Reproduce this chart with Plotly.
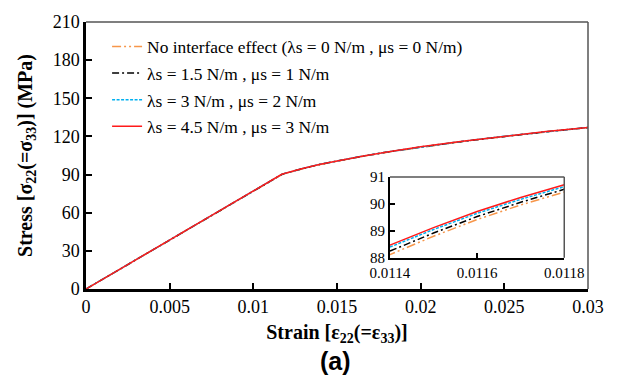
import plotly.graph_objects as go

strain = [0, 0.005, 0.01, 0.011, 0.0114, 0.0115, 0.0116, 0.0117, 0.0118, 0.0122, 0.013,
          0.014, 0.015, 0.0165, 0.018, 0.02, 0.0225, 0.025, 0.0275, 0.03]
stress_none = [0, 38.65, 77.3, 84.95, 88.12, 88.8, 89.42, 89.96, 90.44, 92.05, 94.8,
               98.0, 100.7, 104.3, 107.6, 111.6, 116.0, 120.0, 123.7, 127.0]
stress_15 = [0, 38.7, 77.4, 85.05, 88.25, 88.92, 89.53, 90.06, 90.54, 92.15, 94.9,
             98.1, 100.8, 104.4, 107.7, 111.7, 116.1, 120.1, 123.7, 127.0]
stress_3 = [0, 38.75, 77.5, 85.2, 88.4, 89.05, 89.65, 90.17, 90.64, 92.25, 94.95,
            98.15, 100.85, 104.45, 107.75, 111.75, 116.15, 120.15, 123.75, 127.05]
stress_45 = [0, 38.8, 77.6, 85.3, 88.47, 89.12, 89.72, 90.24, 90.71, 92.3, 95.0,
             98.2, 100.9, 104.5, 107.8, 111.8, 116.2, 120.2, 123.8, 127.1]

names = ["No interface effect (λs = 0 N/m , μs = 0 N/m)",
         "λs = 1.5 N/m , μs = 1 N/m",
         "λs = 3 N/m , μs = 2 N/m",
         "λs = 4.5 N/m , μs = 3 N/m"]
series = [stress_none, stress_15, stress_3, stress_45]
colors = ["#F7964A", "#000000", "#00B0F0", "#FF1A1A"]
dashes = ["9px,3px,2px,3px,2px,3px", "7px,3px,2px,3px", "3px,1.5px", "solid"]

x_ticks = [0, 0.005, 0.01, 0.015, 0.02, 0.025, 0.03]
x_ticktext = ["0", "0.005", "0.01", "0.015", "0.02", "0.025", "0.03"]
y_ticks = [0, 30, 60, 90, 120, 150, 180, 210]
inset_x_ticks = [0.0114, 0.0116, 0.0118]
inset_x_ticktext = ["0.0114", "0.0116", "0.0118"]
inset_y_ticks = [88, 89, 90, 91]

SERIF = "Liberation Serif, 'Times New Roman', Times, serif"

fig = go.Figure()
for name, ys, c, d in zip(names, series, colors, dashes):
    fig.add_trace(go.Scatter(x=strain, y=ys, name=name, mode="lines",
                             line=dict(color=c, width=1.5, dash=d),
                             legendgroup=name, xaxis="x", yaxis="y"))
for name, ys, c, d in zip(names, series, colors, dashes):
    fig.add_trace(go.Scatter(x=strain, y=ys, name=name, mode="lines", showlegend=False,
                             line=dict(color=c, width=1.5, dash=d),
                             xaxis="x2", yaxis="y2"))

axis_common = dict(showgrid=False, zeroline=False, showline=True, linecolor="black",
                   ticks="inside", tickcolor="black", tickwidth=1.5)

fig.update_layout(
    width=620, height=391,
    margin=dict(l=86, r=27, t=15, b=102),
    paper_bgcolor="white", plot_bgcolor="white",
    font=dict(family=SERIF, size=17, color="black"),
    xaxis=dict(domain=[0, 1], range=[0, 0.03], tickvals=x_ticks, ticktext=x_ticktext,
               linewidth=2.5, ticklen=6, tickfont=dict(size=18),
               title=dict(text="<b>Strain [ε<sub>22</sub>(=ε<sub>33</sub>)]</b>",
                          font=dict(size=20), standoff=9),
               **axis_common),
    yaxis=dict(domain=[0, 1], range=[0, 210], tickvals=y_ticks, linewidth=2.5, ticklen=6,
               tickfont=dict(size=18),
               title=dict(text="<b>Stress [σ<sub>22</sub>(=σ<sub>33</sub>)] (MPa)</b>",
                          font=dict(size=20), standoff=15),
               **axis_common),
    xaxis2=dict(domain=[0.6055, 0.9527], range=[0.0114, 0.0118], anchor="y2",
                tickvals=inset_x_ticks, ticktext=inset_x_ticktext, linewidth=2,
                ticklen=5, tickfont=dict(size=15), **axis_common),
    yaxis2=dict(domain=[0.1168, 0.4197], range=[88, 91], anchor="x2",
                tickvals=inset_y_ticks, linewidth=2, ticklen=5,
                tickfont=dict(size=15), **axis_common),
    legend=dict(x=0.042, y=0.975, xanchor="left", yanchor="top",
                bgcolor="rgba(0,0,0,0)", font=dict(size=17.4, family=SERIF),
                tracegroupgap=1, itemwidth=30),
    showlegend=True,
)

# thin gray top/right frame lines
for xr, yr in [("x domain", "y domain"), ("x2 domain", "y2 domain")]:
    fig.add_shape(type="line", xref=xr, yref=yr, x0=0, x1=1, y0=1, y1=1,
                  line=dict(color="#555555", width=1.5))
    fig.add_shape(type="line", xref=xr, yref=yr, x0=1, x1=1, y0=0, y1=1,
                  line=dict(color="#555555", width=1.5))

fig.add_annotation(text="<b>(a)</b>", xref="paper", yref="paper", x=0.497, y=-0.27,
                   xanchor="center", yanchor="middle",
                   showarrow=False, font=dict(family="Liberation Sans", size=25, color="black"))

fig.write_html("out.html")
